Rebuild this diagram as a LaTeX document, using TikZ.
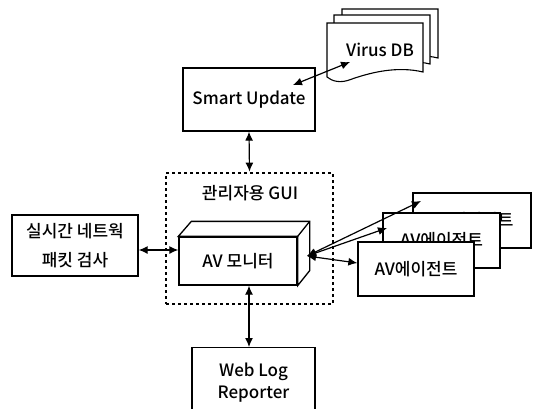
\documentclass[tikz,border=0pt]{standalone}
\usepackage{fontspec}
\setmainfont{Noto Sans CJK KR}[UprightFont=* Medium]
\usetikzlibrary{arrows.meta, positioning, calc}

\begin{document}
\begin{tikzpicture}[
    x=1pt, y=-1pt,
    every node/.style={font=\fontsize{17}{21}\selectfont, align=center, inner sep=0pt},
    box/.style={draw, fill=white, line width=1.3pt},
    sheet/.style={draw, fill=white, line width=1.1pt},
    link/.style={{Latex[length=9pt,width=8pt]}-{Latex[length=9pt,width=8pt]}, line width=1.2pt}
]
    \clip (0,0) rectangle (539,408);
    \useasboundingbox (0,0) rectangle (539,408);

    \foreach \dx/\dy in {15/-14, 7/-8, 0/0}
        \draw[sheet, shift={(\dx,\dy)}] (327,23) -- (423,23) -- (423,72)
            .. controls (398,66) and (372,72) .. (352,79)
            .. controls (340,84) and (332,81) .. (327,77) -- cycle;
    \node (vdb) at (380,50) {Virus DB};

    \node[box, minimum width=132pt, minimum height=63pt] (su) at (249,99.5) {Smart Update};

    \node[draw, line width=2.8pt, dash pattern=on 2.8pt off 3.2pt,
          minimum width=167pt, minimum height=131pt] (gui) at (249.5,238.5) {};
    \node (guilbl) at (250,193) {관리자용 GUI};

    \node[box, minimum width=118pt, minimum height=48pt] (avm) at (238,261) {AV 모니터};
    \draw[box] (avm.north west) -- ++(13,-15) -- ($(avm.north east)+(12,-15)$)
        -- ($(avm.south east)+(12,-15)$) -- (avm.south east) -- (avm.north east) -- cycle;
    \draw[line width=1.3pt] (avm.north east) -- ++(12,-15);

    \node[box, minimum width=126pt, minimum height=61pt,
          font=\fontsize{17}{29}\selectfont] (pkt) at (75,245.5) {실시간 네트웍\\패킷 검사};

    \node[box, minimum width=123pt, minimum height=70pt, anchor=north,
          font=\fontsize{17}{22}\selectfont] (web) at (253.5,347) {Web Log\\Reporter};

    \node[box, minimum width=118pt, minimum height=55pt] (ag3) at (472,220.5) {AV에이전트};
    \node[box, minimum width=117pt, minimum height=55pt] (ag2) at (441.5,240.5) {AV에이전트};
    \node[box, minimum width=116pt, minimum height=54pt] (ag1) at (416,269) {AV에이전트};

    \coordinate (sutip) at (293,85);
    \coordinate (dbtip) at (350,62);
    \coordinate (avmtip) at (307,256);
    \coordinate (ag3tip) at (421,201);
    \coordinate (ag2tip) at (387,228);

    \draw[link] (sutip) -- (dbtip);
    \draw[link] (su.south) -- (gui.north);
    \draw[link] (pkt.east |- 0,250) -- (avm.west |- 0,250);
    \draw[link] (avm.south -| su.south) -- (web.north -| su.south);
    \draw[link] (avmtip) -- (ag3tip);
    \draw[link] (avmtip) -- (ag2tip);
    \draw[link] (avmtip) -- ([yshift=6pt]ag1.west);
\end{tikzpicture}
\end{document}
